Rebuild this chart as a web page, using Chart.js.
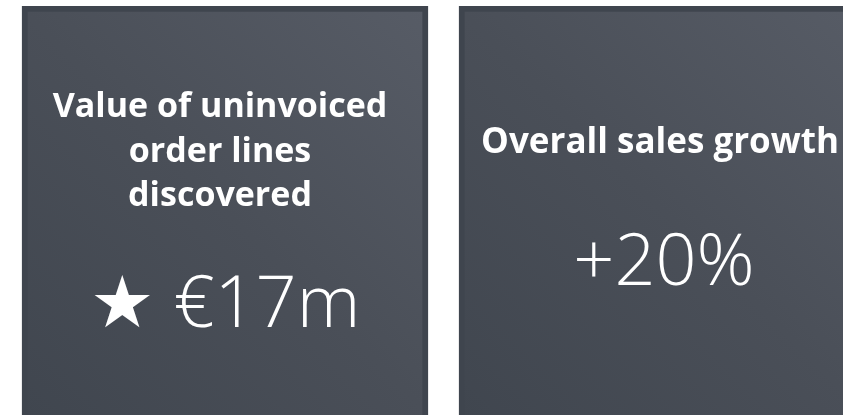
<!DOCTYPE html>
<html>
<head>
<meta charset="utf-8">
<script src="https://cdn.jsdelivr.net/npm/chart.js@4/dist/chart.umd.min.js"></script>
<style>
html,body{margin:0;padding:0;background:#ffffff;}
#wrap{width:843px;height:415px;position:relative;}
</style>
</head>
<body>
<div id="wrap"><canvas id="c" width="843" height="415"></canvas></div>
<script>
// KPI tiles
const categories = ['Value of uninvoiced order lines discovered', 'Overall sales growth'];
const titleLines = [['Value of uninvoiced', 'order lines', 'discovered'], ['Overall sales growth']];
const kpiValues = ['\u2605 \u20AC17m', '+20%'];
const tileSpan = [1, 1];

const FONT = '"Open Sans", "Noto Sans", sans-serif';

const textPlugin = {
  id: 'kpiText',
  afterDatasetsDraw(chart) {
    const c = chart.ctx;
    const meta = chart.getDatasetMeta(0);
    const top = chart.scales.y.getPixelForValue(1);
    c.save();
    c.fillStyle = '#ffffff';
    c.textAlign = 'center';
    c.textBaseline = 'alphabetic';
    meta.data.forEach((el, i) => {
      const lines = titleLines[i];
      const cx = el.x;
      if (lines.length === 3) {
        c.font = 'bold 34px ' + FONT;
        const bases = [111, 156, 200];
        lines.forEach((t, k) => c.fillText(t, cx - 5, top + bases[k]));
        c.font = '300 72px ' + FONT;
        c.fillText(kpiValues[i], cx, top + 321);
      } else {
        c.font = 'bold 35px ' + FONT;
        c.fillText(lines[0], cx - 2, top + 147);
        c.font = '300 72px ' + FONT;
        c.fillText(kpiValues[i], cx + 2, top + 279);
      }
    });
    c.restore();
  }
};

new Chart(document.getElementById('c'), {
  type: 'bar',
  data: {
    labels: categories,
    datasets: [{
      data: tileSpan.map((v, i) => ({ x: i, y: v })),
      barThickness: 406,
      borderWidth: 6,
      borderSkipped: 'bottom',
      borderColor: '#3f454e',
      backgroundColor: (ctx) => {
        const ch = ctx.chart;
        if (ctx.dataIndex === undefined || !ch.chartArea || !ch.scales.x) return '#4b515a';
        const cx = ch.scales.x.getPixelForValue(ctx.dataIndex);
        const g = ch.ctx.createLinearGradient(cx - 203, ch.chartArea.bottom, cx + 203, ch.chartArea.top);
        g.addColorStop(0, '#40464f');
        g.addColorStop(0.5, '#4a4f58');
        g.addColorStop(1, '#575c66');
        return g;
      }
    }]
  },
  options: {
    responsive: false,
    animation: false,
    layout: { padding: { top: 6, left: 0, right: 0, bottom: 0 } },
    plugins: { legend: { display: false }, tooltip: { enabled: false }, title: { display: false } },
    scales: {
      x: { type: 'linear', display: false, offset: false, min: -0.5149, max: 1.4142 },
      y: { display: false, min: 0, max: 1 }
    }
  },
  plugins: [textPlugin]
});
</script>
</body>
</html>
